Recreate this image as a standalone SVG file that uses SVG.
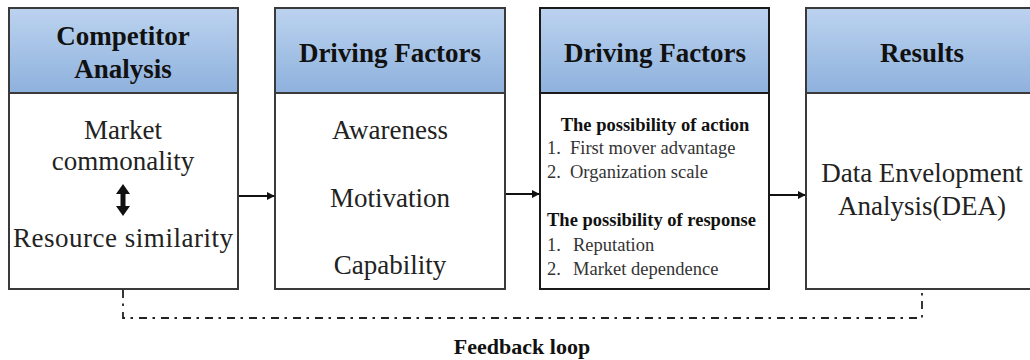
<svg xmlns="http://www.w3.org/2000/svg" width="1030" height="360" viewBox="0 0 1030 360">
  <style>
    .box { fill: #ffffff; stroke: #3a3a3a; stroke-width: 2; }
    .head { fill: url(#headFill); stroke: #3a3a3a; stroke-width: 2; }
    .title { font-family: "Liberation Serif", "Times New Roman", serif; font-weight: bold; font-size: 27px; fill: #111; text-anchor: middle; }
    .body { font-family: "Liberation Serif", "Times New Roman", serif; font-size: 27px; fill: #222; text-anchor: middle; }
    .sub { font-family: "Liberation Serif", "Times New Roman", serif; font-weight: bold; font-size: 18.5px; fill: #111; }
    .item { font-family: "Liberation Serif", "Times New Roman", serif; font-size: 18.5px; fill: #333; }
    .caption { font-family: "Liberation Serif", "Times New Roman", serif; font-weight: bold; font-size: 22px; fill: #111; text-anchor: middle; }
    .flow { stroke: #111; stroke-width: 2; fill: none; }
    .loop { stroke: #222; stroke-width: 1.8; fill: none; stroke-dasharray: 8 5.5 2.5 6; }
  </style>
  <defs>
    <linearGradient id="headFill" x1="0" y1="0" x2="0" y2="1">
      <stop offset="0" stop-color="#bcd3ef"/>
      <stop offset="1" stop-color="#8eb1dd"/>
    </linearGradient>
    <marker id="arrow" viewBox="0 0 10 10" refX="9" refY="5" markerWidth="8" markerHeight="8" markerUnits="userSpaceOnUse" orient="auto">
      <path d="M0,0 L10,5 L0,10 z" fill="#111"/>
    </marker>
  </defs>

  <!-- Competitor analysis -->
  <g id="competitor">
    <rect class="box" x="9" y="8" width="229" height="281"/>
    <rect class="head" x="9" y="8" width="229" height="85"/>
    <text class="title" x="123" y="45">Competitor</text>
    <text class="title" x="123" y="78">Analysis</text>
    <text class="body" x="123" y="139">Market</text>
    <text class="body" x="123" y="170">commonality</text>
    <path d="M123,184 L130,194 L125.5,194 L125.5,206 L130,206 L123,216 L116,206 L120.5,206 L120.5,194 L116,194 z" fill="#111"/>
    <text class="body" x="123" y="247" textLength="220" lengthAdjust="spacing">Resource similarity</text>
  </g>

  <!-- Driving factors -->
  <g id="drivers">
    <rect class="box" x="275" y="8" width="230" height="281"/>
    <rect class="head" x="275" y="8" width="230" height="85"/>
    <text class="title" x="390" y="62">Driving Factors</text>
    <text class="body" x="390" y="139">Awareness</text>
    <text class="body" x="390" y="207">Motivation</text>
    <text class="body" x="390" y="274">Capability</text>
  </g>

  <!-- Driving factors: action / response -->
  <g id="possibility">
    <rect class="box" x="540" y="8" width="229" height="281" style="stroke:#1a1a1a"/>
    <rect class="head" x="540" y="8" width="229" height="85" style="stroke:#1a1a1a"/>
    <text class="title" x="655" y="62">Driving Factors</text>
    <text class="sub" x="655" y="131" text-anchor="middle">The possibility of action</text>
    <text class="item" x="547" y="154">1.</text>
    <text class="item" x="570" y="154">First mover advantage</text>
    <text class="item" x="547" y="178">2.</text>
    <text class="item" x="570" y="178">Organization scale</text>
    <text class="sub" x="547" y="226">The possibility of response</text>
    <text class="item" x="547" y="251">1.</text>
    <text class="item" x="573" y="251">Reputation</text>
    <text class="item" x="547" y="275">2.</text>
    <text class="item" x="573" y="275">Market dependence</text>
  </g>

  <!-- Results -->
  <g id="results">
    <rect class="box" x="806" y="8" width="232" height="281"/>
    <rect class="head" x="806" y="8" width="232" height="85"/>
    <text class="title" x="922" y="62">Results</text>
    <text class="body" x="922" y="182">Data Envelopment</text>
    <text class="body" x="922" y="215">Analysis(DEA)</text>
  </g>

  <!-- Connectors -->
  <g id="connectors">
    <line class="flow" x1="239" y1="196" x2="274" y2="196" marker-end="url(#arrow)"/>
    <line class="flow" x1="506" y1="194" x2="539" y2="194" marker-end="url(#arrow)"/>
    <line class="flow" x1="770" y1="195" x2="805" y2="195" marker-end="url(#arrow)"/>
    <path class="loop" d="M123,290 L123,318 L922,318 L922,290"/>
    <text class="caption" x="522" y="354">Feedback loop</text>
  </g>
</svg>
